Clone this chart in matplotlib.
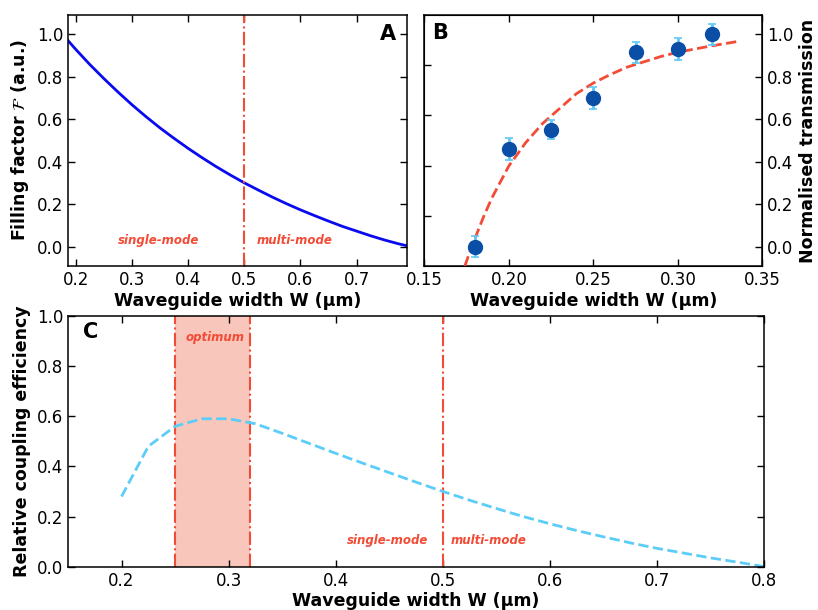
import numpy as np
import matplotlib
matplotlib.use("Agg")
import matplotlib.pyplot as plt

# ---- data ----
# A: filling factor vs waveguide width
fill_w = [0.186, 0.2, 0.225, 0.25, 0.275, 0.3, 0.325, 0.35, 0.375, 0.4, 0.425, 0.45, 0.475,
          0.5, 0.525, 0.55, 0.575, 0.6, 0.625, 0.65, 0.675, 0.7, 0.725, 0.75, 0.775, 0.79]
fill_f = [0.97, 0.928, 0.857, 0.791, 0.728, 0.668, 0.612, 0.559, 0.510, 0.463, 0.419, 0.377, 0.338,
          0.301, 0.267, 0.234, 0.203, 0.174, 0.147, 0.121, 0.096, 0.074, 0.052, 0.032, 0.014, 0.005]

# B: measured transmission with error bars, plus fitted curve
meas_w = [0.18, 0.20, 0.225, 0.25, 0.275, 0.30, 0.32]
meas_t = [0.0, 0.46, 0.55, 0.70, 0.915, 0.93, 1.0]
meas_err = [0.05, 0.05, 0.045, 0.05, 0.05, 0.05, 0.05]
fit_w = [0.174, 0.178, 0.185, 0.19, 0.2, 0.21, 0.22, 0.23, 0.24, 0.25, 0.26, 0.27,
         0.28, 0.29, 0.30, 0.31, 0.32, 0.335]
fit_t = [-0.09, 0.0, 0.14, 0.23, 0.38, 0.49, 0.58, 0.65, 0.72, 0.77, 0.81, 0.845,
         0.87, 0.895, 0.915, 0.93, 0.945, 0.965]

# C: relative coupling efficiency
coup_w = [0.2, 0.225, 0.25, 0.275, 0.3, 0.325, 0.35, 0.375, 0.4, 0.425, 0.45, 0.475, 0.5,
          0.525, 0.55, 0.575, 0.6, 0.625, 0.65, 0.675, 0.7, 0.725, 0.75, 0.775, 0.8]
coup_e = [0.28, 0.48, 0.56, 0.59, 0.59, 0.57, 0.532, 0.492, 0.452, 0.413, 0.375, 0.337, 0.30,
          0.265, 0.232, 0.20, 0.171, 0.144, 0.119, 0.095, 0.073, 0.054, 0.035, 0.018, 0.0]

mode_cut = 0.5
optimum = (0.25, 0.32)

RED = '#f24b36'
SHADE = '#f9c6bb'
xlab = u'Waveguide width W (\u00b5m)'


def style_axis(ax):
    ax.tick_params(which='both', direction='in', length=5, width=1,
                   top=True, labelsize=12)
    for s in ax.spines.values():
        s.set_linewidth(1.1)


fig = plt.figure(figsize=(8.18, 6.10), dpi=100)

# ---- panel A ----
axA = fig.add_axes([0.0831, 0.564, 0.4145, 0.4114])
axA.plot(fill_w, fill_f, color='#0a0af0', lw=2)
axA.axvline(mode_cut, color=RED, ls='-.', lw=1.5)
axA.text(0.347, 0.03, 'single-mode', color=RED, fontsize=8.5, style='italic',
         weight='bold', ha='center', va='center')
axA.text(0.59, 0.03, 'multi-mode', color=RED, fontsize=8.5, style='italic',
         weight='bold', ha='center', va='center')
axA.set_xlim(0.186, 0.79)
axA.set_ylim(-0.09, 1.09)
axA.set_xticks([0.2, 0.3, 0.4, 0.5, 0.6, 0.7])
axA.set_yticks([0.0, 0.2, 0.4, 0.6, 0.8, 1.0])
style_axis(axA)
axA.tick_params(right=True)
axA.set_xlabel(xlab, fontsize=12.5, weight='bold', labelpad=2)
axA.set_ylabel(r'Filling factor $\mathcal{F}$ (a.u.)', fontsize=12.5, weight='bold', labelpad=4)
axA.text(0.944, 0.925, 'A', transform=axA.transAxes, fontsize=15, weight='bold',
         ha='center', va='center')

# ---- panel B ----
axB = fig.add_axes([0.5187, 0.564, 0.4133, 0.4114])
axB.set_ylim(0, 1)
axB.set_yticks([0.2, 0.4, 0.6, 0.8])
axB.set_yticklabels([])
style_axis(axB)
axB.tick_params(axis='y', right=False)
axB2 = axB.twinx()
axB2.plot(fit_w, fit_t, color=RED, ls='--', lw=2)
axB2.errorbar(meas_w, meas_t, yerr=meas_err, fmt='o', color='#0b4ea6', ms=10,
              ecolor='#5fc8f5', elinewidth=2, capsize=3, capthick=1.2, zorder=3)
axB2.set_ylim(-0.09, 1.09)
axB2.set_yticks([0.0, 0.2, 0.4, 0.6, 0.8, 1.0])
axB2.tick_params(direction='in', length=5, width=1, labelsize=12)
axB.set_xlim(0.15, 0.35)
axB.set_xticks([0.15, 0.20, 0.25, 0.30, 0.35])
axB.set_xticklabels(['0.15', '0.20', '0.25', '0.30', '0.35'])
axB.set_xlabel(xlab, fontsize=12.5, weight='bold', labelpad=2)
axB2.set_ylabel('Normalised transmission', fontsize=12.5, weight='bold', labelpad=4)
axB.text(0.047, 0.93, 'B', transform=axB.transAxes, fontsize=15, weight='bold',
         ha='center', va='center')

# ---- panel C ----
axC = fig.add_axes([0.0831, 0.071, 0.8513, 0.411])
axC.axvspan(optimum[0], optimum[1], color=SHADE, lw=0)
for xv in optimum:
    axC.axvline(xv, color=RED, ls='-.', lw=1.5)
axC.axvline(mode_cut, color=RED, ls='-.', lw=1.5)
axC.plot(coup_w, coup_e, color='#5bcdf8', ls='--', lw=2)
axC.text(0.287, 0.915, 'optimum', color=RED, fontsize=8.5, style='italic',
         weight='bold', ha='center', va='center')
axC.text(0.448, 0.105, 'single-mode', color=RED, fontsize=8.5, style='italic',
         weight='bold', ha='center', va='center')
axC.text(0.543, 0.105, 'multi-mode', color=RED, fontsize=8.5, style='italic',
         weight='bold', ha='center', va='center')
axC.set_xlim(0.15, 0.8)
axC.set_ylim(0, 1)
axC.set_xticks([0.2, 0.3, 0.4, 0.5, 0.6, 0.7, 0.8])
axC.set_yticks([0.0, 0.2, 0.4, 0.6, 0.8, 1.0])
style_axis(axC)
axC.tick_params(right=True)
axC.set_xlabel(xlab, fontsize=12.5, weight='bold', labelpad=2)
axC.set_ylabel('Relative coupling efficiency', fontsize=12.5, weight='bold', labelpad=4)
axC.text(0.032, 0.936, 'C', transform=axC.transAxes, fontsize=15, weight='bold',
         ha='center', va='center')

fig.savefig('out.png', dpi=100)
